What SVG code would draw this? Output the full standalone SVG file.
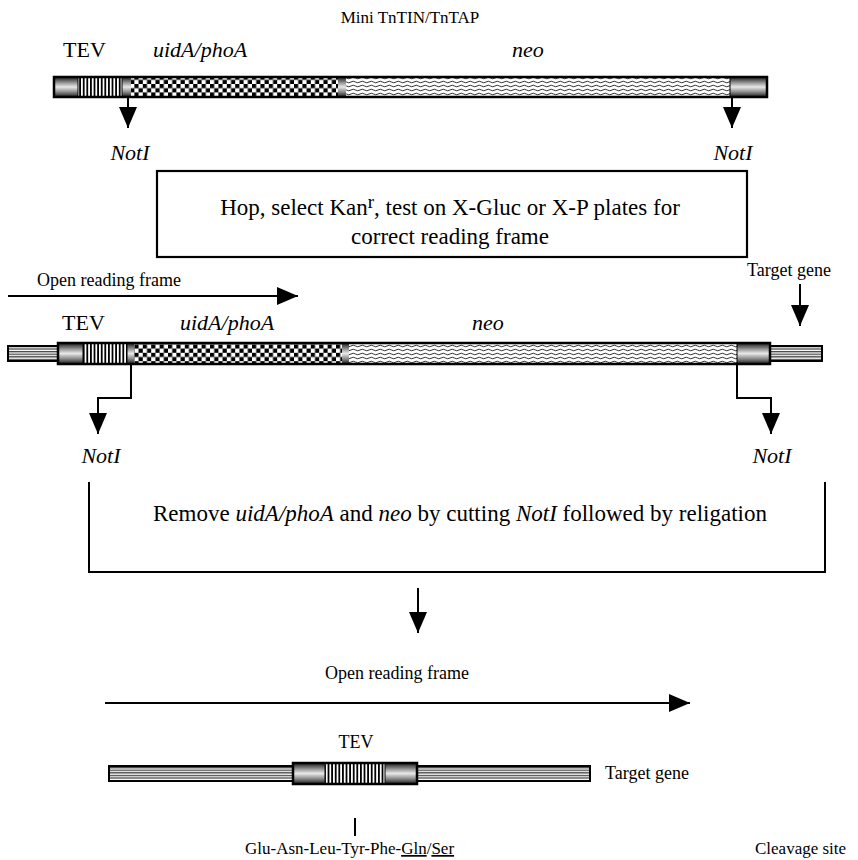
<svg xmlns="http://www.w3.org/2000/svg" width="858" height="860" viewBox="0 0 858 860">
  <style>
    text { font-family: "Liberation Serif", "Times New Roman", serif; font-size: 18px; fill: #000; }
    .it { font-style: italic; }
    .mid { text-anchor: middle; }
    .lbl { font-size: 22px; }
    .big { font-size: 23px; }
    .sm { font-size: 17px; }
    .ln { fill: none; stroke: #000; stroke-width: 2; }
    .edge { fill: none; stroke: #000; stroke-width: 2.5; }
    .seg { stroke: #000; stroke-width: 1; }
  </style>
  <defs>
    <linearGradient id="cap" x1="0" y1="0" x2="0" y2="1">
      <stop offset="0" stop-color="#1a1a1a"/>
      <stop offset="0.3" stop-color="#9a9a9a"/>
      <stop offset="0.5" stop-color="#e8e8e8"/>
      <stop offset="0.75" stop-color="#8a8a8a"/>
      <stop offset="1" stop-color="#1a1a1a"/>
    </linearGradient>
    <pattern id="vstripe" width="3.6" height="20" patternUnits="userSpaceOnUse">
      <rect width="3.6" height="20" fill="#fff"/>
      <rect width="1.8" height="20" fill="#000"/>
    </pattern>
    <pattern id="checker" width="8.4" height="8.4" patternUnits="userSpaceOnUse">
      <rect width="8.4" height="8.4" fill="#fff"/>
      <rect width="4.2" height="4.2" fill="#000"/>
      <rect x="4.2" y="4.2" width="4.2" height="4.2" fill="#000"/>
    </pattern>
    <pattern id="wave" width="9" height="4" patternUnits="userSpaceOnUse">
      <rect width="9" height="4" fill="#fff"/>
      <path d="M0 2 Q2.25 0.4 4.5 2 T9 2" fill="none" stroke="#333" stroke-width="1"/>
    </pattern>
    <pattern id="hstripe" width="10" height="2.6" patternUnits="userSpaceOnUse">
      <rect width="10" height="2.6" fill="#fff"/>
      <rect width="10" height="1.3" fill="#444"/>
    </pattern>
    <marker id="ah" markerUnits="userSpaceOnUse" markerWidth="22" markerHeight="20" refX="21" refY="9" orient="auto">
      <path d="M0 0 L21 9 L0 18 Z" fill="#000"/>
    </marker>
  </defs>

  <!-- Title -->
  <text class="mid sm" x="410" y="23">Mini TnTIN/TnTAP</text>

  <!-- Transposon construct -->
  <g id="transposon">
    <text class="lbl" x="63" y="57">TEV</text>
    <text class="lbl it" x="153" y="57">uidA/phoA</text>
    <text class="lbl it" x="512" y="57">neo</text>
    <rect x="54" y="77" width="24" height="20" fill="url(#cap)"/>
    <rect x="78" y="77" width="44" height="20" fill="url(#vstripe)"/>
    <rect x="122" y="77" width="9" height="20" fill="url(#cap)"/>
    <rect x="131" y="77" width="207" height="20" fill="url(#checker)"/>
    <rect x="338" y="77" width="8" height="20" fill="url(#cap)"/>
    <rect x="346" y="77" width="384" height="20" fill="url(#wave)"/>
    <rect x="730" y="77" width="37" height="20" fill="url(#cap)"/>
    <line class="seg" x1="78" y1="77" x2="78" y2="97"/>
    <line class="seg" x1="122" y1="77" x2="122" y2="97"/>
    <line class="seg" x1="730" y1="77" x2="730" y2="97"/>
    <rect class="edge" x="54" y="77" width="713" height="20"/>
  </g>

  <g id="noti-top-left">
    <text class="lbl it mid" x="130" y="160">NotI</text>
  </g>
  <g id="noti-top-right">
    <text class="lbl it mid" x="733" y="160">NotI</text>
  </g>

  <!-- Selection step -->
  <g id="selection-box">
    <rect x="157" y="171" width="590" height="86" fill="#fff" stroke="#000" stroke-width="2.2"/>
    <text class="big mid" x="450" y="215">Hop, select Kan<tspan dy="-7" font-size="19">r</tspan><tspan dy="7">, test on X-Gluc or X-P plates for</tspan></text>
    <text class="big mid" x="450" y="244">correct reading frame</text>
  </g>

  <!-- Insertion in target gene -->
  <g id="orf-top">
    <text x="37" y="286">Open reading frame</text>
  </g>
  <g id="target-gene-label">
    <text x="747" y="276">Target gene</text>
  </g>

  <g id="insertion">
    <text class="lbl" x="62" y="330">TEV</text>
    <text class="lbl it" x="180" y="330">uidA/phoA</text>
    <text class="lbl it" x="472" y="330">neo</text>
    <rect x="8" y="346" width="50" height="15" fill="url(#hstripe)" stroke="#000" stroke-width="2"/>
    <rect x="770" y="346" width="52" height="15" fill="url(#hstripe)" stroke="#000" stroke-width="2"/>
    <rect x="58" y="343" width="25" height="21" fill="url(#cap)"/>
    <rect x="83" y="343" width="44" height="21" fill="url(#vstripe)"/>
    <rect x="127" y="343" width="7" height="21" fill="url(#cap)"/>
    <rect x="134" y="343" width="208" height="21" fill="url(#checker)"/>
    <rect x="342" y="343" width="7" height="21" fill="url(#cap)"/>
    <rect x="349" y="343" width="388" height="21" fill="url(#wave)"/>
    <rect x="737" y="343" width="33" height="21" fill="url(#cap)"/>
    <line class="seg" x1="83" y1="343" x2="83" y2="364"/>
    <line class="seg" x1="127" y1="343" x2="127" y2="364"/>
    <line class="seg" x1="737" y1="343" x2="737" y2="364"/>
    <rect class="edge" x="58" y="343" width="712" height="21"/>
  </g>

  <g id="noti-mid-left">
    <text class="lbl it mid" x="101" y="463">NotI</text>
  </g>
  <g id="noti-mid-right">
    <text class="lbl it mid" x="772" y="463">NotI</text>
  </g>

  <!-- Excision step -->
  <g id="excision-box">
    <path class="ln" d="M89 482 V572 H825 V482"/>
    <text class="big mid" x="460" y="521">Remove <tspan class="it">uidA/phoA</tspan> and <tspan class="it">neo</tspan> by cutting <tspan class="it">NotI</tspan> followed by religation</text>
  </g>

  <!-- Final fusion -->
  <g id="orf-bottom">
    <text class="mid" x="397" y="679">Open reading frame</text>
  </g>

  <g id="fusion">
    <text class="mid" x="356" y="748" font-size="19">TEV</text>
    <rect x="109" y="766" width="481" height="15" fill="url(#hstripe)" stroke="#000" stroke-width="2"/>
    <rect x="293" y="763" width="32" height="21" fill="url(#cap)"/>
    <rect x="325" y="763" width="60" height="21" fill="url(#vstripe)"/>
    <rect x="385" y="763" width="32" height="21" fill="url(#cap)"/>
    <line class="seg" x1="325" y1="763" x2="325" y2="784"/>
    <line class="seg" x1="385" y1="763" x2="385" y2="784"/>
    <rect class="edge" x="293" y="763" width="124" height="21"/>
  </g>
  <g id="target-gene-bottom">
    <text x="605" y="779">Target gene</text>
  </g>

  <g id="cleavage-site">
    <text class="sm" x="245" y="854">Glu-Asn-Leu-Tyr-Phe-<tspan text-decoration="underline">Gln</tspan>/<tspan text-decoration="underline">Ser</tspan></text>
    <text class="sm" x="755" y="854">Cleavage site</text>
  </g>

  <!-- Connectors -->
  <g id="connectors">
    <line class="ln" x1="128" y1="97" x2="128" y2="128" marker-end="url(#ah)"/>
    <line class="ln" x1="732" y1="97" x2="732" y2="128" marker-end="url(#ah)"/>
    <line class="ln" x1="8" y1="296" x2="298" y2="296" marker-end="url(#ah)"/>
    <line class="ln" x1="800" y1="284" x2="800" y2="326" marker-end="url(#ah)"/>
    <path class="ln" d="M131 364 V398 H98 V434" marker-end="url(#ah)"/>
    <path class="ln" d="M737 364 V398 H771 V434" marker-end="url(#ah)"/>
    <line class="ln" x1="418" y1="588" x2="418" y2="633" marker-end="url(#ah)"/>
    <line class="ln" x1="105" y1="703" x2="690" y2="703" marker-end="url(#ah)"/>
    <line class="ln" x1="355" y1="818" x2="355" y2="836"/>
  </g>
</svg>
